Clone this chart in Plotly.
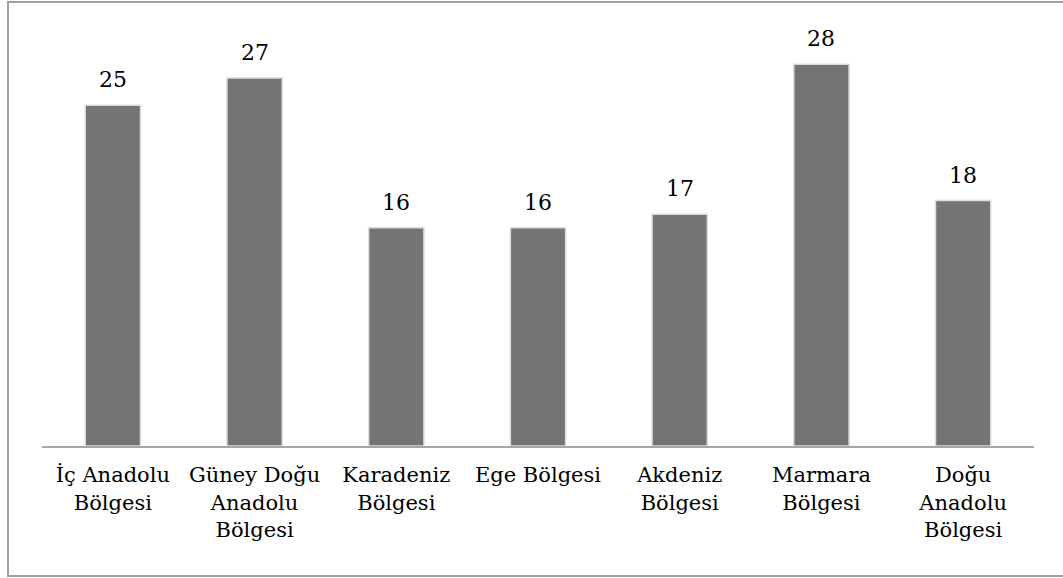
import plotly.graph_objects as go

categories = ["İç Anadolu<br>Bölgesi", "Güney Doğu<br>Anadolu<br>Bölgesi", "Karadeniz<br>Bölgesi",
              "Ege Bölgesi", "Akdeniz<br>Bölgesi", "Marmara<br>Bölgesi", "Doğu<br>Anadolu<br>Bölgesi"]
values = [25, 27, 16, 16, 17, 28, 18]

W, H = 1063, 578
ml, mr, mt, mb = 42, 29, 37, 132
pw, ph = W - ml - mr, H - mt - mb

fig = go.Figure()
fig.add_trace(go.Bar(
    x=categories, y=values,
    marker=dict(color="#747474", line=dict(color="#dcdcdc", width=1.5)),
    width=0.39, hoverinfo="skip",
))
for c, v in zip(categories, values):
    fig.add_annotation(x=c, y=v, text=str(v), showarrow=False, yanchor="bottom", yshift=11,
                       font=dict(family="DejaVu Serif", size=22, color="#000"))

def px_x(p):
    return (p - ml) / pw

def px_y(p):
    return (H - mb - p) / ph

fig.add_shape(type="rect", xref="paper", yref="paper",
              x0=px_x(8), x1=px_x(1068), y0=px_y(576), y1=px_y(2),
              line=dict(color="#a0a0a0", width=2), layer="below")

fig.update_layout(
    width=W, height=H,
    margin=dict(l=ml, r=mr, t=mt, b=mb),
    paper_bgcolor="white", plot_bgcolor="white",
    showlegend=False,
    font=dict(family="DejaVu Serif", size=21, color="#000"),
    xaxis=dict(showline=True, linecolor="#a6a6a6", linewidth=2, ticks="", showgrid=False,
               tickfont=dict(family="DejaVu Serif", size=21), tickangle=0,
               ticklabelstandoff=9),
    yaxis=dict(range=[0, 30], visible=False, showgrid=False),
)
fig.write_html("out.html", post_script="document.body.style.margin='0';",
               config={"displayModeBar": False})
